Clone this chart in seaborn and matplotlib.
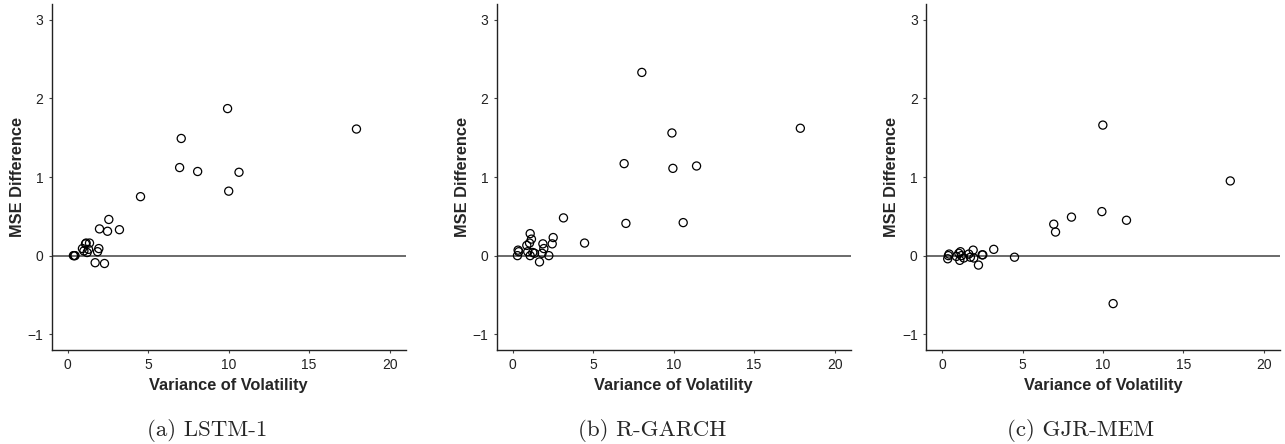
import matplotlib
matplotlib.use("Agg")
import matplotlib.pyplot as plt
import seaborn as sns
import pandas as pd

# ---- data ----
lstm_x = [0.35, 0.40, 0.45, 0.91, 1.00, 1.10, 1.14, 1.20, 1.29, 1.35, 1.70, 1.85, 1.93, 1.97, 2.28, 2.47, 2.55, 3.21, 4.52, 6.95, 7.05, 8.07, 9.93, 10.00, 10.64, 17.94]
lstm_y = [0.00, 0.00, 0.00, 0.09, 0.06, 0.15, 0.16, 0.04, 0.08, 0.16, -0.09, 0.05, 0.09, 0.34, -0.10, 0.31, 0.46, 0.33, 0.75, 1.12, 1.49, 1.07, 1.87, 0.82, 1.06, 1.61]

rgarch_x = [0.29, 0.33, 0.37, 0.87, 0.93, 1.04, 1.08, 1.08, 1.16, 1.24, 1.35, 1.66, 1.82, 1.87, 1.93, 2.24, 2.45, 2.51, 3.15, 4.46, 6.92, 7.03, 8.02, 9.89, 9.95, 10.59, 11.42, 17.87]
rgarch_y = [0.00, 0.07, 0.05, 0.13, 0.05, 0.16, 0.28, 0.00, 0.21, 0.04, 0.03, -0.08, 0.03, 0.15, 0.09, 0.00, 0.15, 0.23, 0.48, 0.16, 1.17, 0.41, 2.33, 1.56, 1.11, 0.42, 1.14, 1.62]

gjr_x = [0.35, 0.39, 0.44, 0.89, 1.04, 1.10, 1.14, 1.20, 1.35, 1.66, 1.76, 1.93, 1.97, 2.26, 2.49, 2.53, 3.21, 4.50, 6.94, 7.05, 8.04, 9.93, 9.99, 10.63, 11.46, 17.91]
gjr_y = [-0.04, 0.00, 0.02, -0.01, 0.03, -0.06, 0.05, 0.00, -0.03, 0.02, -0.02, 0.07, -0.03, -0.12, 0.01, 0.01, 0.08, -0.02, 0.40, 0.30, 0.49, 0.56, 1.66, -0.61, 0.45, 0.95]

captions = ["(a) LSTM-1", "(b) R-GARCH", "(c) GJR-MEM"]
x_ticks = [0, 5, 10, 15, 20]
y_ticks = [-1, 0, 1, 2, 3]
y_tick_labels = ["\u22121", "0", "1", "2", "3"]
x_label = "Variance of Volatility"
y_label = "MSE Difference"

sns.set_theme(style="ticks")
plt.rcParams["font.family"] = ["Liberation Sans", "DejaVu Sans"]

fig = plt.figure(figsize=(12.85, 4.44), dpi=100)

lefts = [51.7, 496.7, 926.0]
cap_centers = [207, 652, 1081]
W, H = 1285.0, 444.0
ax_w = 354.0
ax_bottom = 1 - 350 / H
ax_h = 346 / H

series = [(lstm_x, lstm_y), (rgarch_x, rgarch_y), (gjr_x, gjr_y)]

for i, ((xs, ys), cap) in enumerate(zip(series, captions)):
    ax = fig.add_axes([lefts[i] / W, ax_bottom, ax_w / W, ax_h])
    df = pd.DataFrame({"x": xs, "y": ys})
    ax.axhline(0, color="#5f5f5f", lw=1.3, zorder=1)
    sns.scatterplot(data=df, x="x", y="y", ax=ax, s=34, color="black",
                    edgecolor="black", linewidth=0.9, zorder=3)
    ax.collections[-1].set_facecolor("none")
    ax.set_xlim(-1.0, 21.0)
    ax.set_ylim(-1.2, 3.2)
    ax.set_xticks(x_ticks)
    ax.set_yticks(y_ticks)
    ax.set_yticklabels(y_tick_labels)
    ax.tick_params(axis="both", labelsize=10, length=2.5, width=0.8,
                   color="#444444", labelcolor="#222222", pad=3.5)
    for s in ["top", "right"]:
        ax.spines[s].set_visible(False)
    for s in ["left", "bottom"]:
        ax.spines[s].set_color("#222222")
        ax.spines[s].set_linewidth(1.0)
    ax.set_xlabel(x_label, fontsize=11.8, fontweight="bold", labelpad=4)
    ax.set_ylabel(y_label, fontsize=11.8, fontweight="bold", labelpad=2)
    fig.text(cap_centers[i] / W, 1 - 430 / H, cap, ha="center", va="center",
             fontsize=16.5, fontfamily="cmr10")

fig.savefig("out.png", dpi=100)
